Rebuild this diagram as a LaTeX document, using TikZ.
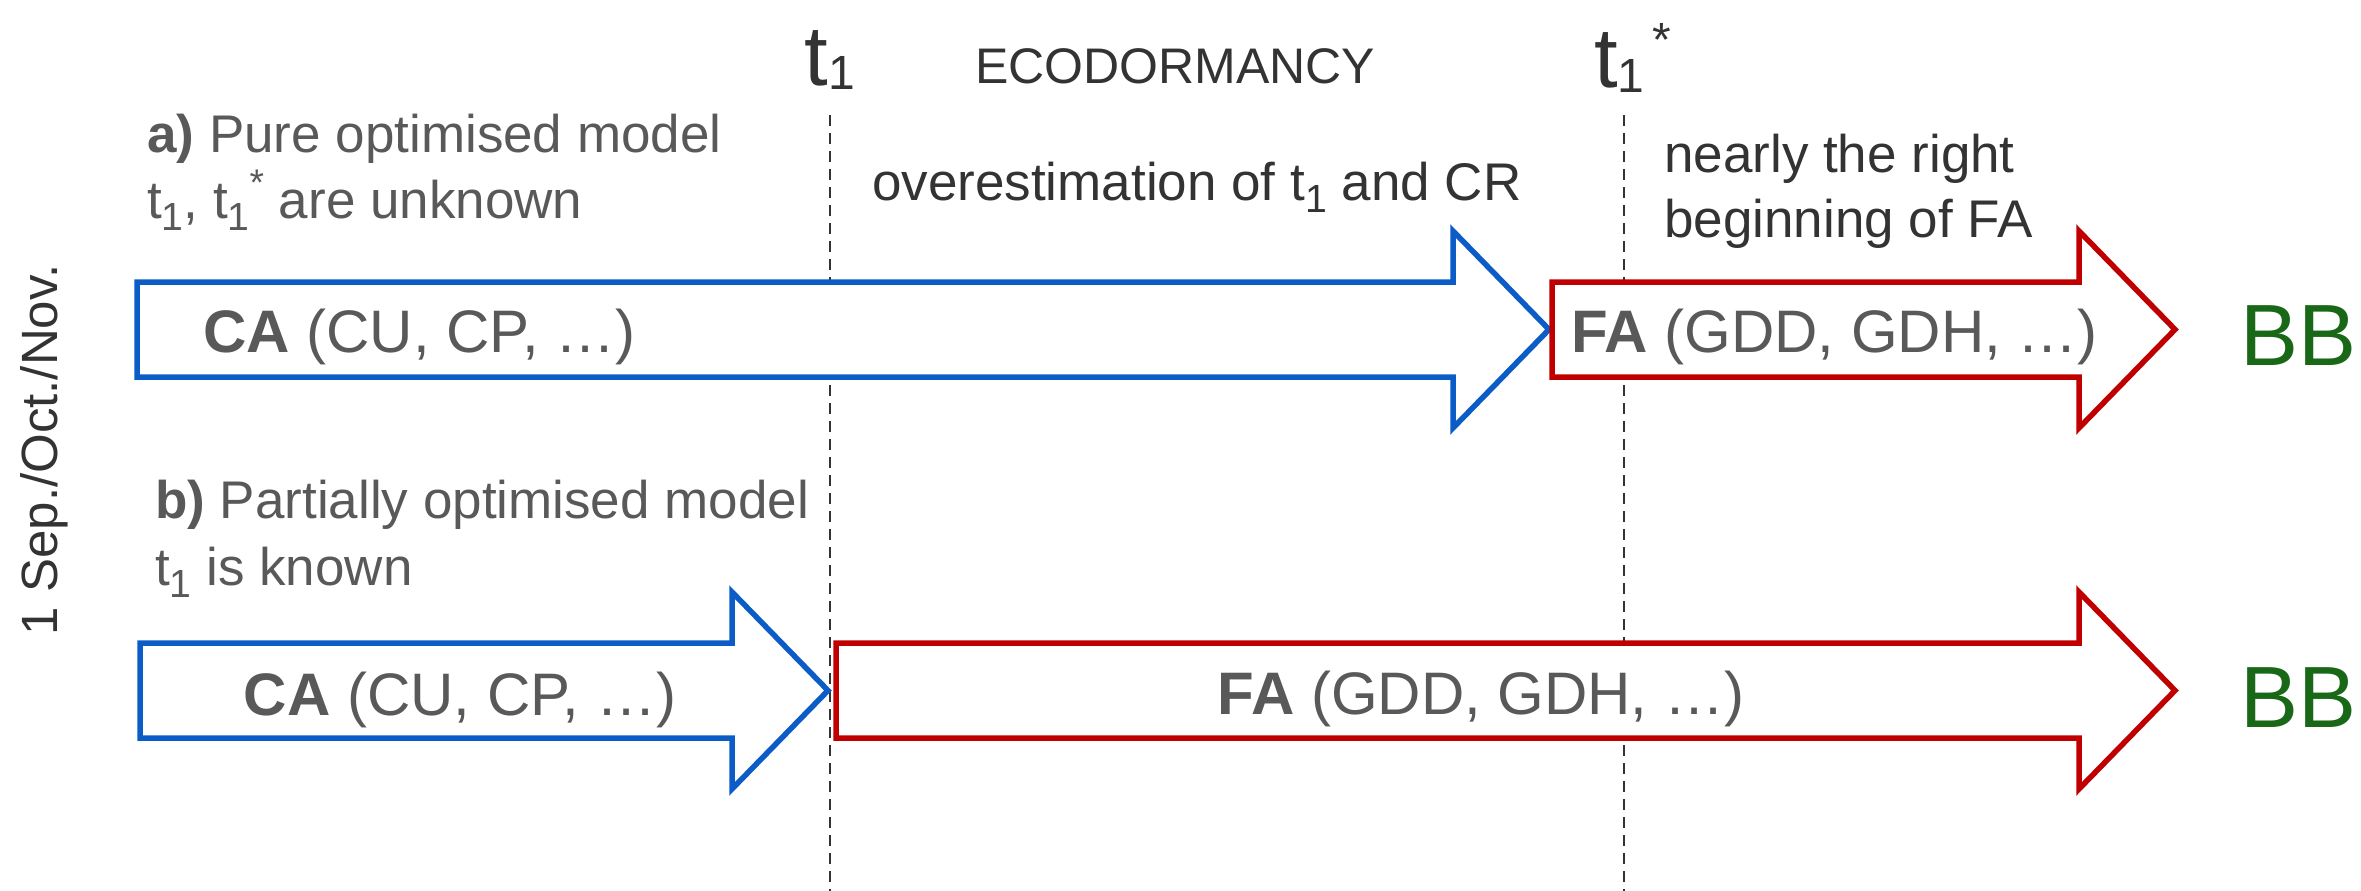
\documentclass[tikz,border=0pt]{standalone}
\usepackage{fontspec}
\setmainfont{Liberation Sans}
\definecolor{arblue}{RGB}{12,92,200}
\definecolor{arred}{RGB}{192,0,0}
\definecolor{bbgreen}{RGB}{24,104,24}
\definecolor{txtgray}{RGB}{89,89,89}
\definecolor{darktxt}{RGB}{51,51,51}
\newcommand\tsub{\raisebox{-0.24em}{\scalebox{0.74}{1}}}
\newcommand\tsup{\raisebox{0.42em}{\scalebox{0.7}{*}}}
\newcommand\fatarrow[4]{%
  \draw[line width=5.5pt, draw=#4, fill=white, line join=miter]
    (#1,#3-47.5) -- (#2,#3-47.5) -- (#2,#3-98.5) -- (#2+96,#3)
    -- (#2,#3+98.5) -- (#2,#3+47.5) -- (#1,#3+47.5) -- cycle;}
\begin{document}
\begin{tikzpicture}[x=1pt,y=-1pt,
  dashline/.style={draw=darktxt, line width=2pt, dash pattern=on 11pt off 7pt},
  lbl/.style={inner sep=0pt, text=txtgray, font=\fontsize{53}{60}\selectfont},
  note/.style={inner sep=0pt, text=darktxt, font=\fontsize{53}{60}\selectfont},
  boxtxt/.style={inner sep=0pt, text=txtgray, font=\fontsize{60}{66}\selectfont},
  bbtxt/.style={inner sep=0pt, text=bbgreen, font=\fontsize{87}{90}\selectfont, anchor=base west}]
\useasboundingbox (0,0) rectangle (2361,891);

% dashed time markers
\coordinate (d1top) at (830,115);
\coordinate (d1bot) at (830,891);
\coordinate (d2top) at (1624,115);
\coordinate (d2bot) at (1624,891);
\draw[dashline] (d1top) -- (d1bot);
\draw[dashline] (d2top) -- (d2bot);

% big arrows
\fatarrow{137}{1453}{329.5}{arblue}
\fatarrow{1552}{2079}{329.5}{arred}
\fatarrow{140}{732}{690.5}{arblue}
\fatarrow{836}{2079}{690.5}{arred}

% top labels
\node[inner sep=0pt, anchor=base, text=darktxt, font=\fontsize{85}{85}\selectfont] (t1lbl) at (830,85)
  {t\raisebox{-4pt}{\fontsize{48}{48}\selectfont 1}};
\node[inner sep=0pt, anchor=base west, text=darktxt, font=\fontsize{85}{85}\selectfont] (t1slbl) at (1594,88)
  {t\raisebox{-5pt}{\fontsize{48}{48}\selectfont 1}\hspace{8pt}\raisebox{32pt}{\fontsize{48}{48}\selectfont *}};
\node[inner sep=0pt, anchor=base west, text=darktxt, font=\fontsize{50}{50}\selectfont] (eco) at (975,83) {ECODORMANCY};

% case a
\node[lbl, anchor=base west] (a1) at (147,152) {\bfseries a)\mdseries{} Pure optimised model};
\node[lbl, anchor=base west] (a2) at (147,218) {t\tsub, t\tsub\tsup{} are unknown};
\node[note, anchor=base west] (over) at (872,200) {overestimation of t\tsub{} and CR};
\node[note, anchor=base west] (near1) at (1664,172) {nearly the right};
\node[note, anchor=base west] (near2) at (1664,237) {beginning of FA};

\node[boxtxt, anchor=base west] (ca1) at (203,352) {\bfseries CA\mdseries{} (CU, CP, …)};
\node[boxtxt, anchor=base west] (fa1) at (1571,352) {\bfseries FA\mdseries{} (GDD, GDH, …)};
\node[bbtxt] (bb1) at (2240,365) {BB};

% case b
\node[lbl, anchor=base west] (b1) at (155,518) {\bfseries b)\mdseries{} Partially optimised model};
\node[lbl, anchor=base west] (b2) at (155,585) {t\tsub{} is known};

\node[boxtxt, anchor=base] (ca2) at (460,715) {\bfseries CA\mdseries{} (CU, CP, …)};
\node[boxtxt, anchor=base] (fa2) at (1481,714) {\bfseries FA\mdseries{} (GDD, GDH, …)};
\node[bbtxt] (bb2) at (2240,727) {BB};

% rotated start date
\node[inner sep=0pt, anchor=base, rotate=90, text=darktxt, font=\fontsize{51}{51}\selectfont] (start) at (57,450) {1 Sep./Oct./Nov.};
\end{tikzpicture}
\end{document}
